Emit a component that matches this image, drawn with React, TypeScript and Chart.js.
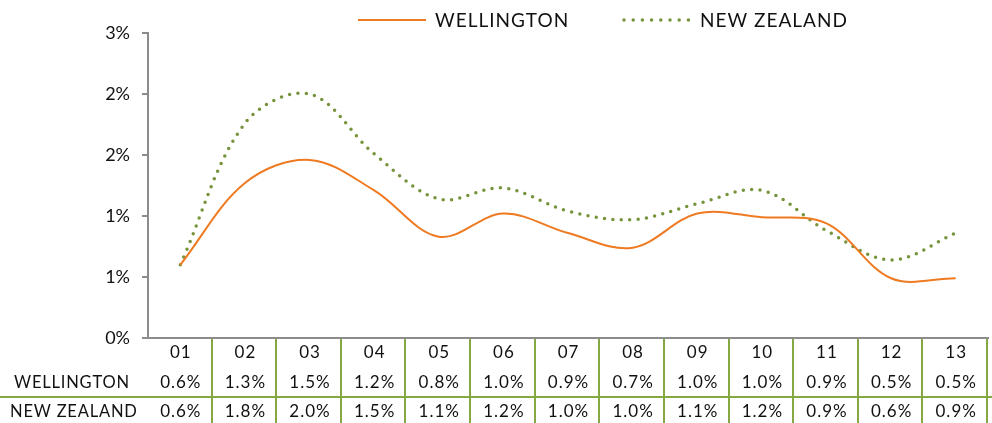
import React, { useEffect, useRef } from "react";
import { Chart, registerables } from "chart.js";

Chart.register(...registerables);

const categories = ["01", "02", "03", "04", "05", "06", "07", "08", "09", "10", "11", "12", "13"];
const wellington = [0.6, 1.27, 1.46, 1.21, 0.83, 1.02, 0.86, 0.74, 1.02, 0.99, 0.94, 0.49, 0.49];
const newZealand = [0.6, 1.76, 2.0, 1.51, 1.14, 1.23, 1.04, 0.97, 1.1, 1.21, 0.88, 0.64, 0.86];
const seriesNames = ["WELLINGTON", "NEW ZEALAND"];
const yTicks = [0, 0.5, 1, 1.5, 2, 2.5];

const ORANGE = "#EE7A22";
const GREEN = "#77933C";
const TABLE_GREEN = "#86A843";
const AXIS_GRAY = "#8C8C8C";
const FONT = "Lato, 'Open Sans', sans-serif";

const tablePlugin = {
  id: "tablePlugin",
  afterDraw(chart: any) {
    const ctx = chart.ctx;
    const x = chart.scales.x;
    const area = chart.chartArea;
    const n = categories.length;
    const step = (area.right - area.left) / n;
    ctx.save();
    ctx.strokeStyle = TABLE_GREEN;
    ctx.lineWidth = 2;
    for (let i = 1; i <= n; i++) {
      const bx = Math.round(area.left + step * i) - 1;
      ctx.beginPath();
      ctx.moveTo(bx, area.bottom + 1);
      ctx.lineTo(bx, chart.height);
      ctx.stroke();
    }
    const hy = area.bottom + 59;
    ctx.beginPath();
    ctx.moveTo(0, hy);
    ctx.lineTo(chart.width, hy);
    ctx.stroke();

    ctx.fillStyle = "#111";
    ctx.font = `17px ${FONT}`;
    ctx.textBaseline = "middle";
    ctx.textAlign = "center";
    (ctx as any).letterSpacing = "1px";
    const rows = [wellington, newZealand];
    const rowY = [area.bottom + 45, area.bottom + 74];
    categories.forEach((c, i) => {
      const cx = x.getPixelForValue(i) + 0.5;
      ctx.fillText(c, cx, area.bottom + 15);
      rows.forEach((r, k) => {
        ctx.fillText(r[i].toFixed(1) + "%", cx, rowY[k]);
      });
    });
    ctx.textAlign = "left";
    ctx.font = `16.5px ${FONT}`;
    (ctx as any).letterSpacing = "0.8px";
    seriesNames.forEach((s, k) => {
      ctx.fillText(s, k === 0 ? 14 : 10, rowY[k]);
    });

    // legend
    const ly = 20;
    ctx.font = `19px ${FONT}`;
    (ctx as any).letterSpacing = "1px";
    ctx.strokeStyle = ORANGE;
    ctx.lineWidth = 2;
    ctx.beginPath();
    ctx.moveTo(358, ly);
    ctx.lineTo(426, ly);
    ctx.stroke();
    ctx.fillStyle = "#111";
    ctx.fillText(seriesNames[0], 435, ly + 1);
    ctx.strokeStyle = GREEN;
    ctx.lineWidth = 3.5;
    ctx.lineCap = "round";
    ctx.setLineDash([0, 9.2]);
    ctx.beginPath();
    ctx.moveTo(624, ly);
    ctx.lineTo(694, ly);
    ctx.stroke();
    ctx.setLineDash([]);
    ctx.fillText(seriesNames[1], 700, ly + 1);
    ctx.restore();
  },
};

export default function App() {
  const ref = useRef<HTMLCanvasElement>(null);
  useEffect(() => {
    const chart = new Chart(ref.current!, {
      type: "line",
      data: {
        labels: categories,
        datasets: [
          {
            label: seriesNames[0],
            data: wellington,
            borderColor: ORANGE,
            borderWidth: 2,
            pointRadius: 0,
            tension: 0.35,
            fill: false,
          },
          {
            label: seriesNames[1],
            data: newZealand,
            borderColor: GREEN,
            borderWidth: 3.5,
            borderDash: [0, 8.4],
            borderCapStyle: "round",
            pointRadius: 0,
            tension: 0.35,
            fill: false,
          },
        ],
      },
      options: {
        animation: false,
        responsive: false,
        maintainAspectRatio: false,
        layout: { padding: { top: 33, right: 4, left: 0, bottom: 0 } },
        plugins: { legend: { display: false }, tooltip: { enabled: false } },
        scales: {
          x: {
            offset: true,
            grid: { display: false },
            ticks: { display: false },
            border: { display: true, color: AXIS_GRAY, width: 2 },
            afterFit: (s: any) => {
              s.height = 85;
            },
          },
          y: {
            min: 0,
            max: 2.5,
            afterBuildTicks: (s: any) => {
              s.ticks = yTicks.map((v) => ({ value: v }));
            },
            grid: { drawOnChartArea: false, drawTicks: true, tickLength: 6, color: AXIS_GRAY, lineWidth: 2 },
            border: { display: true, color: AXIS_GRAY, width: 2 },
            ticks: {
              color: "#111",
              padding: 12,
              font: { family: FONT, size: 18 },
              callback: (v: any) => Math.round(Number(v)) + "%",
            },
            afterFit: (s: any) => {
              s.width = 148;
            },
          },
        },
      },
      plugins: [tablePlugin],
    });
    return () => chart.destroy();
  }, []);
  return (
    <div style={{ position: "fixed", left: 0, top: 0, width: 992, height: 423, background: "#fff" }}>
      <canvas ref={ref} width={992} height={423} style={{ width: 992, height: 423 }} />
    </div>
  );
}
